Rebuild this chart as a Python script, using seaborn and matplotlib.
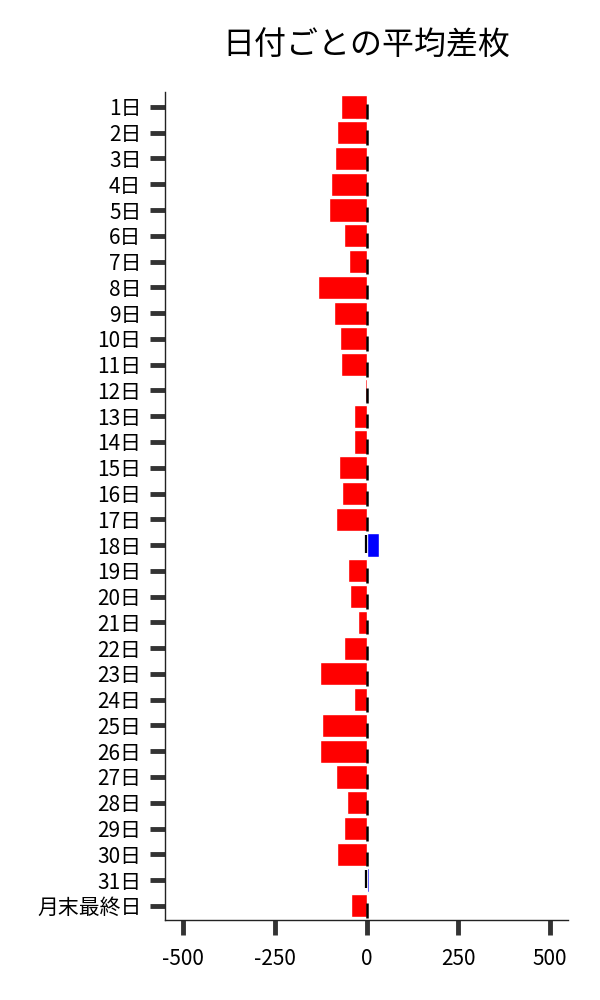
import matplotlib
matplotlib.use("Agg")
import matplotlib.pyplot as plt
import seaborn as sns
import pandas as pd
import numpy as np

days = [f"{i}日" for i in range(1, 32)] + ["月末最終日"]
values = [-71, -81, -87, -98, -103, -62, -49, -133, -90, -73, -70,
          -5, -35, -35, -76, -68, -84, 35, -52, -46, -24, -62,
          -128, -35, -122, -128, -84, -54, -62, -82, 7, -43]
xticks = [-500, -250, 0, 250, 500]

sns.set_theme(style="white")
plt.rcParams['font.family'] = ['Noto Sans CJK JP', 'DejaVu Sans']

df = pd.DataFrame({"day": days, "value": values})
colors = ["#0000FF" if v > 0 else "#FF0000" for v in values]

fig = plt.figure(figsize=(6, 10), dpi=100)
ax = fig.add_axes([0.275, 0.08, 0.672, 0.828])
sns.barplot(data=df, x="value", y="day", hue="day", palette=colors,
            order=days, hue_order=days, width=0.9, legend=False,
            saturation=1, ax=ax)

# thin black marks at zero for each bar
pos = np.arange(len(days))
for p, v in zip(pos, values):
    if v > 0:
        ax.vlines(-1.5, p - 0.4, p + 0.3, color="black", lw=1.6, zorder=3)
    else:
        ax.vlines(0, p - 0.1, p + 0.47, color="black", lw=1.8, zorder=3)

ax.set_xlim(-550, 550)
ax.set_ylim(len(days) - 0.45, -0.58)
ax.set_xticks(xticks)
ax.set_xticklabels([str(t) for t in xticks])
ax.set_xlabel("")
ax.set_ylabel("")
ax.set_title("日付ごとの平均差枚", fontsize=23, pad=27, color="black")

for s in ["top", "right"]:
    ax.spines[s].set_visible(False)
for s in ["left", "bottom"]:
    ax.spines[s].set_color("#222222")
    ax.spines[s].set_linewidth(1.0)

ax.tick_params(axis="both", which="major", length=11, width=3.5,
               color="#333333", labelsize=15, labelcolor="black",
               direction="out")
ax.tick_params(axis="x", pad=9)
ax.tick_params(axis="y", pad=6)
ax.tick_params(left=True, bottom=True)

fig.savefig("out.png", dpi=100)
